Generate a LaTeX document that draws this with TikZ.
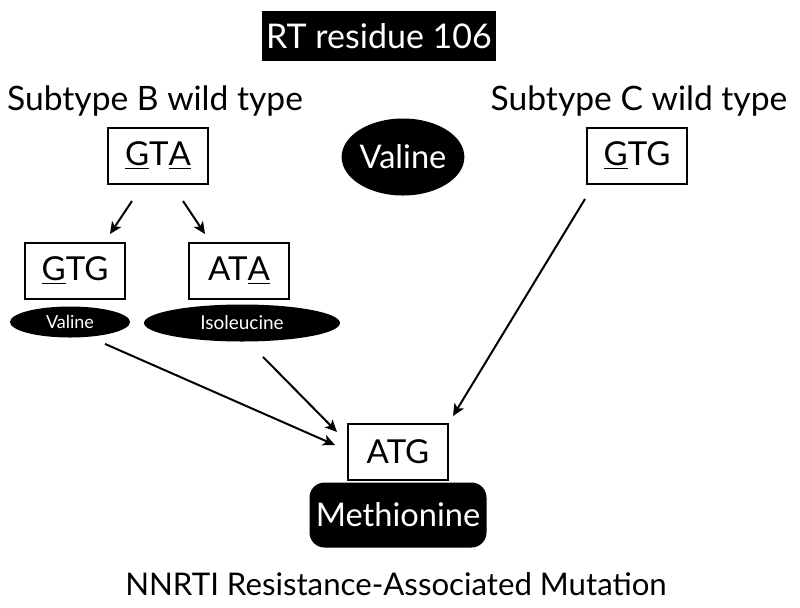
\documentclass[tikz,border=0pt]{standalone}
\usepackage{fontspec}
\setmainfont{Lato}
\usetikzlibrary{shapes.geometric,arrows.meta,calc}
\begin{document}
\begin{tikzpicture}[x=0.5pt,y=-0.5pt,
  bigfont/.style={font=\fontsize{16.3}{19}\selectfont},
  codon/.style={draw, line width=1pt, minimum width=50pt, minimum height=28pt, inner sep=0pt, font=\fontsize{16.5}{19}\selectfont},
  aaoval/.style={ellipse, fill=black, text=white, inner sep=0pt},
  arr/.style={line width=1pt, -{Stealth[length=6pt,width=5.5pt,inset=1.5pt]}},
  ]
\useasboundingbox (0,0) rectangle (800,607);

% title
\node[fill=black, text=white, minimum width=117pt, minimum height=25pt, inner sep=0pt, font=\fontsize{17}{20}\selectfont] (title) at (379,36) {RT residue 106};

% subtype labels
\node[anchor=base, font=\fontsize{16.8}{19}\selectfont, inner sep=0pt] (subB) at (155,110) {Subtype B wild type};
\node[anchor=base, font=\fontsize{16.8}{19}\selectfont, inner sep=0pt] (subC) at (639,110) {Subtype C wild type};

% codon boxes
\node[codon] (gta) at (158,156) {\underline{G}T\underline{A}};
\node[codon] (gtgC) at (637,156) {\underline{G}TG};
\node[codon] (gtgL) at (75,271) {\underline{G}TG};
\node[codon] (ata) at (239,271) {AT\underline{A}};
\node[codon] (atg) at (398,452) {ATG};

% amino acids
\node[aaoval, minimum width=57pt, minimum height=38.5pt, bigfont] (valBig) at (403,157) {Valine};
\node[aaoval, minimum width=60pt, minimum height=15.5pt, font=\fontsize{9}{10}\selectfont] (valSmall) at (70,322) {Valine};
\node[aaoval, minimum width=98pt, minimum height=18.5pt, font=\fontsize{9.5}{11}\selectfont] (iso) at (242,323) {Isoleucine};
\node[fill=black, text=white, rounded corners=7.5pt, minimum width=88.5pt, minimum height=32.5pt, inner sep=0pt, bigfont] (met) at (398,515) {Methionine};

% bottom caption
\node[anchor=base, font=\fontsize{15.6}{18}\selectfont, inner sep=0pt] (caption) at (396,595) {NNRTI Resistance-Associated Mutation};

% arrows
\draw[arr] ($(gta.south)+(-26,16)$) -- ($(gtgL.north)+(35,-8)$);
\draw[arr] ($(gta.south)+(25,16)$) -- ($(ata.north)+(-34,-8)$);
\draw[arr] ($(gtgC.south)+(-52,14)$) -- ($(atg.north east)+(4,-7)$);
\draw[arr] ($(valSmall.south)+(35,6)$) -- ($(atg.west)+(-12,-7)$);
\draw[arr] ($(iso.south)+(21,15)$) -- ($(atg.north west)+(-10,9)$);
\end{tikzpicture}
\end{document}
